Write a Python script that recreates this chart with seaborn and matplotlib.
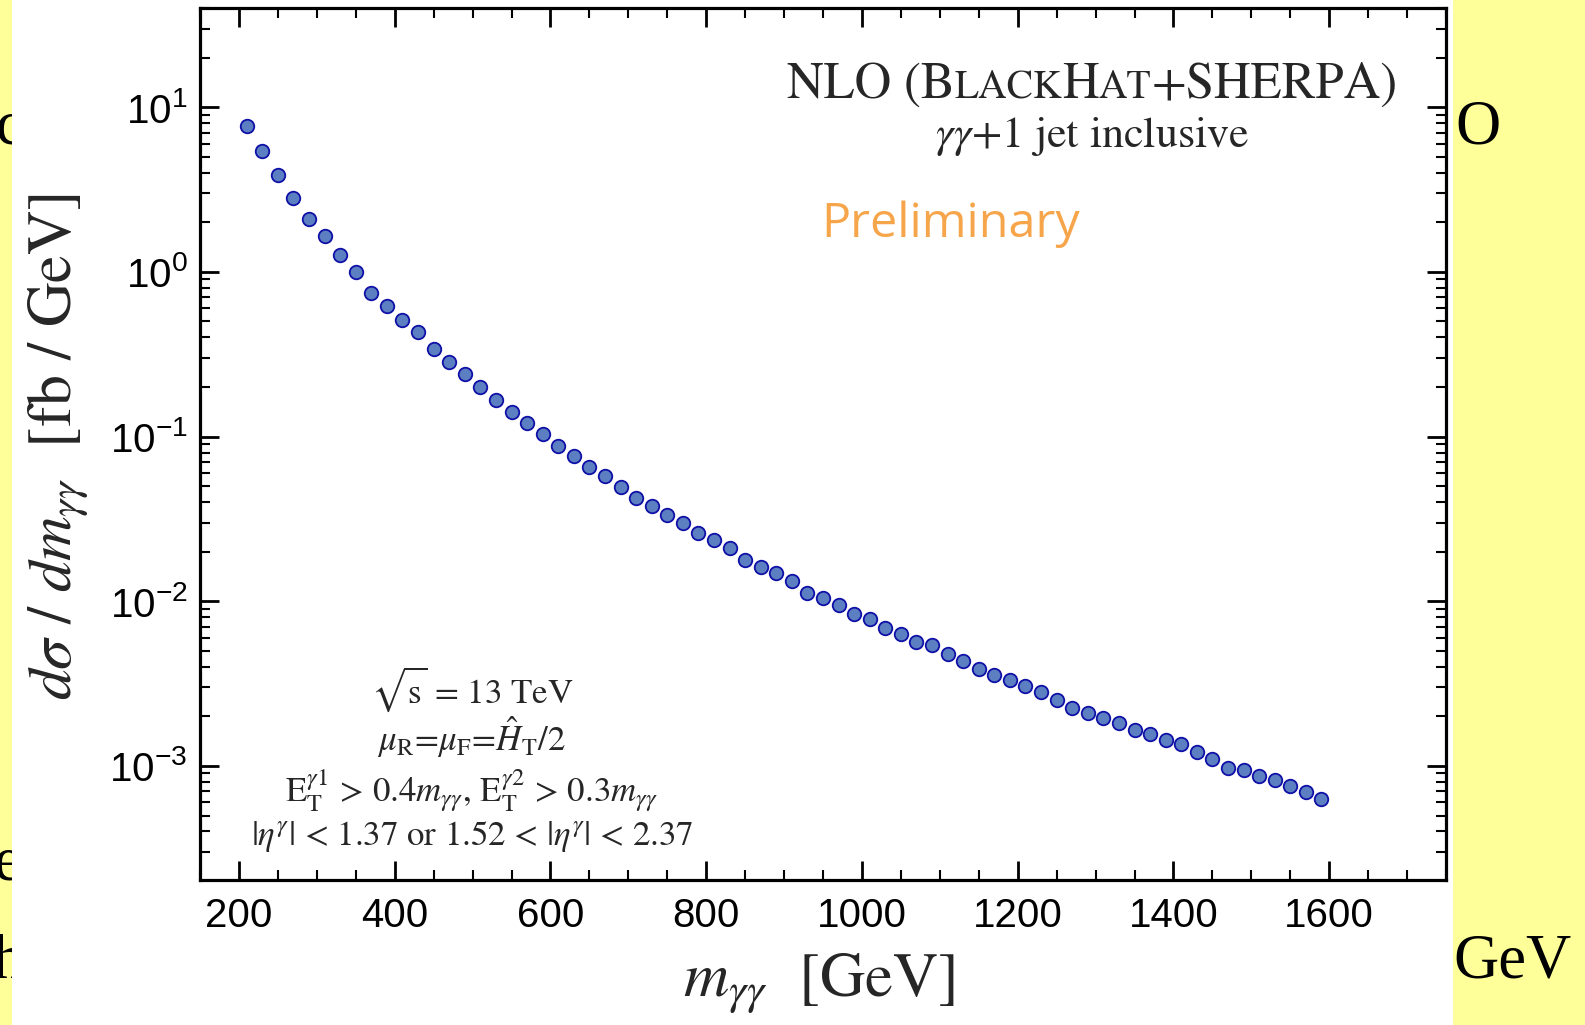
import numpy as np
import pandas as pd
import matplotlib
matplotlib.use("Agg")
import matplotlib.pyplot as plt
import seaborn as sns
from matplotlib.patches import Rectangle
from matplotlib.ticker import MultipleLocator, LogLocator, NullFormatter

# ---------------- data ----------------
m_gg = [210, 230, 250, 270, 290, 310, 330, 350, 370, 390,
        410, 430, 450, 470, 490, 510, 530, 550, 570, 590,
        610, 630, 650, 670, 690, 710, 730, 750, 770, 790,
        810, 830, 850, 870, 890, 910, 930, 950, 970, 990,
        1010, 1030, 1050, 1070, 1090, 1110, 1130, 1150, 1170, 1190,
        1210, 1230, 1250, 1270, 1290, 1310, 1330, 1350, 1370, 1390,
        1410, 1430, 1450, 1470, 1490, 1510, 1530, 1550, 1570, 1590]
dsigma = [7.7, 5.42, 3.90, 2.81, 2.09, 1.66, 1.27, 1.00, 0.743, 0.624,
          0.511, 0.431, 0.340, 0.285, 0.240, 0.199, 0.167, 0.141, 0.121, 0.103,
          0.0881, 0.0767, 0.0649, 0.0577, 0.0493, 0.0426, 0.0378, 0.0333, 0.0298, 0.0261,
          0.0236, 0.0212, 0.0178, 0.0162, 0.0148, 0.0133, 0.0113, 0.01045, 0.00951, 0.00835,
          0.00778, 0.00692, 0.00634, 0.00569, 0.00543, 0.00479, 0.00436, 0.00389, 0.00357, 0.00333,
          0.00304, 0.00281, 0.00253, 0.00225, 0.00209, 0.00196, 0.00183, 0.00166, 0.00156, 0.00143,
          0.00136, 0.00122, 0.00110, 0.000978, 0.000947, 0.000863, 0.000823, 0.000760, 0.000690, 0.000631]

x_major_ticks = [200, 400, 600, 800, 1000, 1200, 1400, 1600]

title_pieces = [("NLO (B", 1.0), ("LACK", 0.78), ("H", 1.0), ("AT", 0.78), ("+SHERPA)", 1.0)]
subtitle = r"$\gamma\gamma$+1 jet inclusive"
prelim = "Preliminary"
cut_lines = [r"$\sqrt{\mathrm{s}}$ = 13 TeV",
             r"$\mu_{\mathrm{R}}$=$\mu_{\mathrm{F}}$=$\hat{H}_{\mathrm{T}}$/2",
             r"E$_{\mathrm{T}}^{\gamma1}$ > 0.4$m_{\gamma\gamma}$, E$_{\mathrm{T}}^{\gamma2}$ > 0.3$m_{\gamma\gamma}$",
             r"|$\eta^{\gamma}$| < 1.37 or 1.52 < |$\eta^{\gamma}$| < 2.37"]
xlabel = r"$m_{\gamma\gamma}$  [GeV]"
ylabel = r"$d\sigma\ /\ dm_{\gamma\gamma}$  [fb / GeV]"

df = pd.DataFrame({"m": m_gg, "ds": dsigma})

# ---------------- style ----------------
sns.set_style("ticks")
plt.rcParams["font.family"] = ["Liberation Sans", "DejaVu Sans"]
plt.rcParams["mathtext.fontset"] = "custom"
plt.rcParams["mathtext.rm"] = "Liberation Sans"
plt.rcParams["mathtext.it"] = "Liberation Sans:italic"
plt.rcParams["mathtext.bf"] = "Liberation Sans:bold"

W, H = 1585, 1025
fig = plt.figure(figsize=(W / 100, H / 100), dpi=100)
fig.patch.set_facecolor("#ffff99")

def fx(px):
    return px / W

def fy(py):
    return 1 - py / H

# slide text fragments peeking out behind the chart image
serif_slide = dict(family="Liberation Serif", fontsize=45, color="black", zorder=0.5)
fig.text(fx(-4), fy(143), "c", ha="left", va="baseline", **serif_slide)
fig.text(fx(-6), fy(880), "e", ha="left", va="baseline", **serif_slide)
fig.text(fx(-8), fy(978), "h", ha="left", va="baseline", **serif_slide)
fig.text(fx(1455), fy(143), "O", ha="left", va="baseline", **serif_slide)
fig.text(fx(1453), fy(978), "GeV", ha="left", va="baseline", **serif_slide)

# white chart image area
fig.add_artist(Rectangle((fx(12), 0), fx(1453 - 12), 1, transform=fig.transFigure,
                         facecolor="white", edgecolor="none", zorder=1))

ax_l, ax_r, ax_t, ax_b = 200, 1446, 8, 880
ax = fig.add_axes([fx(ax_l), fy(ax_b), fx(ax_r - ax_l), (ax_b - ax_t) / H])
ax.set_zorder(2)
ax.set_facecolor("white")

sns.scatterplot(data=df, x="m", y="ds", ax=ax, s=95, color="#5b7fc0",
                edgecolor="#1010a8", linewidth=1.3, zorder=3, legend=False)

ax.set_yscale("log")
ax.set_xlim(150, 1750)
ax.set_ylim(2.03e-4, 40)
ax.set_xticks(x_major_ticks)
ax.xaxis.set_minor_locator(MultipleLocator(50))
ax.yaxis.set_major_locator(LogLocator(base=10, numticks=20))
ax.yaxis.set_minor_locator(LogLocator(base=10, subs=np.arange(2, 10), numticks=20))
ax.yaxis.set_minor_formatter(NullFormatter())
ax.set_xlabel("")
ax.set_ylabel("")

for s in ax.spines.values():
    s.set_linewidth(2.3)
    s.set_color("black")
ax.tick_params(which="both", direction="in", top=True, right=True, colors="black")
ax.tick_params(which="major", length=14, width=2.0, labelsize=29)
ax.tick_params(axis="x", which="major", pad=12)
ax.tick_params(axis="y", which="major", pad=9)
ax.tick_params(which="minor", length=7, width=1.5)

# ---------------- texts ----------------
serif = "STIXGeneral"
fig.canvas.draw()
rend = fig.canvas.get_renderer()

def wid(t):
    return t.get_window_extent(rend).width

def fit(t, target):
    w = wid(t)
    t.set_fontsize(t.get_fontsize() * target / w)

# title with small caps
base = 34
pieces = [fig.text(0, fy(98), s, fontsize=base * k, family=serif, ha="left",
                   va="baseline", zorder=4) for s, k in title_pieces]
tot = sum(wid(p) for p in pieces)
scale = 611 / tot
for p, (s, k) in zip(pieces, title_pieces):
    p.set_fontsize(base * k * scale)
widths = [wid(p) for p in pieces]
x0 = 1092 - sum(widths) / 2
for p, w in zip(pieces, widths):
    p.set_x(fx(x0))
    x0 += w

t_sub = fig.text(fx(1092), fy(147), subtitle, fontsize=28, family=serif,
                 math_fontfamily="stix", ha="center", va="baseline", zorder=4)
fit(t_sub, 314)

t_pre = fig.text(fx(951), fy(237), prelim, fontsize=34, family="Open Sans",
                 color="#f7a54a", ha="center", va="baseline", zorder=4)
fit(t_pre, 258)

cut_base = [703, 751, 802, 845]
cut_texts = []
for s, yb in zip(cut_lines, cut_base):
    cut_texts.append(fig.text(fx(472), fy(yb), s, fontsize=21, family=serif,
                              math_fontfamily="stix", ha="center", va="baseline", zorder=4))
sc = 442 / wid(cut_texts[-1])
for t in cut_texts:
    t.set_fontsize(t.get_fontsize() * sc)

t_xl = fig.text(fx(819), fy(997), xlabel, fontsize=38, family=serif,
                math_fontfamily="stix", ha="center", va="baseline", zorder=4)
fit(t_xl, 272)

t_yl = fig.text(fx(58), fy(447), ylabel, fontsize=38, family=serif,
                math_fontfamily="stix", rotation=90, ha="center", va="center", zorder=4)
h = t_yl.get_window_extent(rend).height
t_yl.set_fontsize(t_yl.get_fontsize() * 507 / h)

fig.savefig("out.png", dpi=100, facecolor=fig.get_facecolor())
